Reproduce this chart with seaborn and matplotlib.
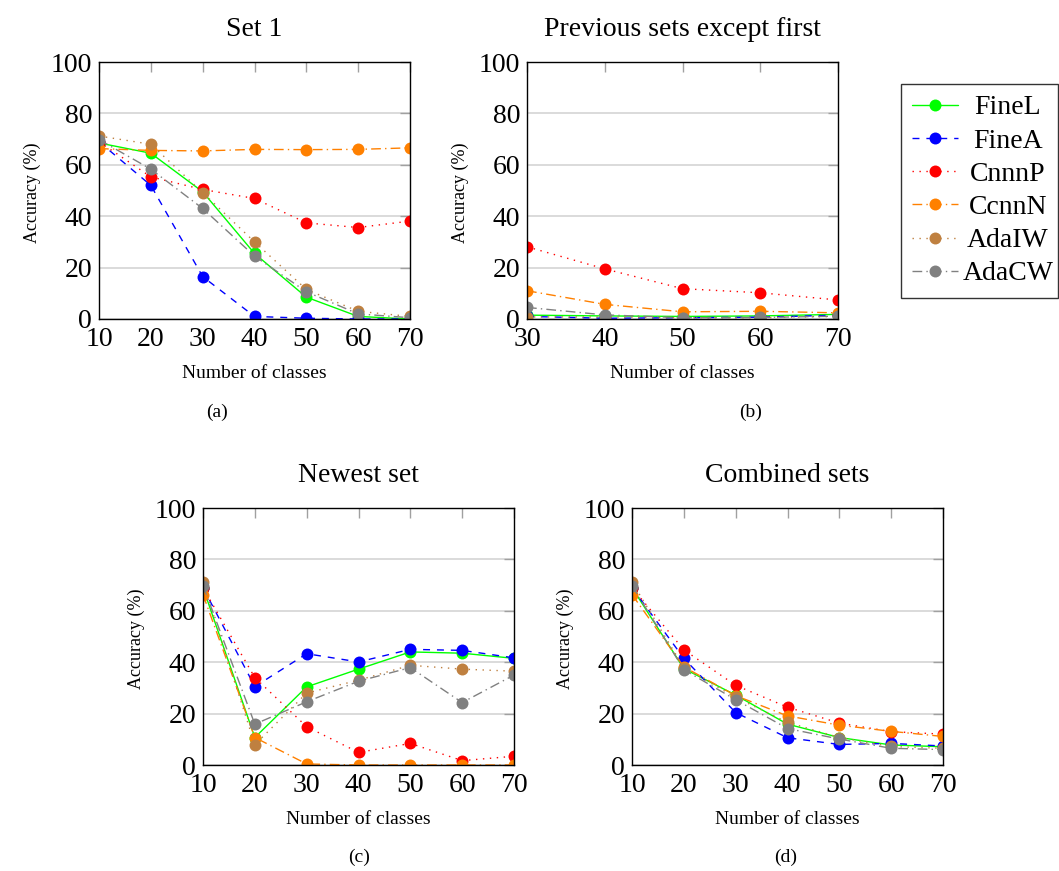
import numpy as np
import pandas as pd
import matplotlib
matplotlib.use("Agg")
import matplotlib.pyplot as plt
import seaborn as sns

methods = ["FineL", "FineA", "CnnnP", "CcnnN", "AdaIW", "AdaCW"]
classes_full = [10, 20, 30, 40, 50, 60, 70]
classes_prev = [30, 40, 50, 60, 70]

# (a) Set 1
set1_FineL = [68.5, 64.5, 49.5, 25.5, 8.5, 1.0, 0.0]
set1_FineA = [69.0, 52.0, 16.5, 1.0, 0.3, 0.0, 0.0]
set1_CnnnP = [69.0, 55.3, 50.4, 46.9, 37.4, 35.6, 38.1]
set1_CcnnN = [66.3, 65.6, 65.4, 66.0, 65.9, 66.0, 66.6]
set1_AdaIW = [71.2, 68.0, 49.2, 30.0, 11.5, 3.0, 1.0]
set1_AdaCW = [69.8, 58.3, 43.0, 24.5, 10.6, 2.0, 0.5]

# (b) Previous sets except first
prev_FineL = [1.5, 1.2, 1.0, 1.2, 1.8]
prev_FineA = [1.0, 0.3, 0.5, 0.7, 1.5]
prev_CnnnP = [28.1, 19.5, 11.8, 10.2, 7.4]
prev_CcnnN = [11.0, 5.7, 2.8, 3.0, 2.4]
prev_AdaIW = [0.8, 0.8, 0.5, 0.5, 1.0]
prev_AdaCW = [4.5, 1.6, 0.5, 0.6, 1.1]

# (c) Newest set
new_FineL = [69.0, 10.7, 30.4, 37.3, 44.0, 43.5, 41.5]
new_FineA = [69.0, 30.5, 43.3, 40.1, 45.0, 44.6, 41.7]
new_CnnnP = [69.0, 34.0, 14.9, 4.9, 8.4, 1.7, 3.4]
new_CcnnN = [66.3, 10.7, 0.4, 0.0, 0.0, 0.0, 0.0]
new_AdaIW = [71.2, 7.9, 28.0, 33.0, 38.8, 37.3, 36.5]
new_AdaCW = [69.8, 15.9, 24.6, 32.6, 37.9, 24.3, 35.0]

# (d) Combined sets
comb_FineL = [69.0, 37.5, 27.2, 15.9, 10.7, 7.8, 7.1]
comb_FineA = [69.0, 41.5, 20.4, 10.6, 8.0, 8.4, 7.4]
comb_CnnnP = [69.0, 44.8, 31.0, 22.5, 16.3, 13.0, 12.0]
comb_CcnnN = [66.3, 38.2, 27.0, 19.1, 15.5, 13.1, 11.1]
comb_AdaIW = [71.2, 37.9, 26.3, 16.6, 10.7, 7.2, 6.5]
comb_AdaCW = [69.8, 37.1, 25.4, 14.2, 10.1, 6.5, 6.0]

titles = ["Set 1", "Previous sets except first", "Newest set", "Combined sets"]
tags = ["(a)", "(b)", "(c)", "(d)"]
panel_x = [classes_full, classes_prev, classes_full, classes_full]
panel_series = [
    [set1_FineL, set1_FineA, set1_CnnnP, set1_CcnnN, set1_AdaIW, set1_AdaCW],
    [prev_FineL, prev_FineA, prev_CnnnP, prev_CcnnN, prev_AdaIW, prev_AdaCW],
    [new_FineL, new_FineA, new_CnnnP, new_CcnnN, new_AdaIW, new_AdaCW],
    [comb_FineL, comb_FineA, comb_CnnnP, comb_CcnnN, comb_AdaIW, comb_AdaCW],
]

styles = {
    "FineL": dict(color="#00ff00", ls="-"),
    "FineA": dict(color="#0000ff", ls=(0, (5, 5))),
    "CnnnP": dict(color="#ff0000", ls=(0, (1, 4))),
    "CcnnN": dict(color="#ff8000", ls=(0, (7, 3, 1, 3))),
    "AdaIW": dict(color="#bf8040", ls=(0, (1, 4))),
    "AdaCW": dict(color="#808080", ls=(0, (7, 3, 1, 3))),
}

sns.set_style("white")
plt.rcParams["font.family"] = ["Liberation Serif", "DejaVu Serif"]
plt.rcParams["text.color"] = "black"
plt.rcParams["xtick.labelcolor"] = "black"
plt.rcParams["ytick.labelcolor"] = "black"
plt.rcParams["axes.labelcolor"] = "black"

W, H = 1059.0, 871.0
fig = plt.figure(figsize=(W / 100, H / 100), dpi=100)
boxes = [(99, 62), (527, 62), (203, 508), (632, 508)]
tag_pos = [(217, 412), (751, 412), (359, 857), (786, 857)]
aw, ah = 311.0, 257.0

handles = None
for title, tag, xs, series, (lx, ty), (tx, tyy) in zip(
        titles, tags, panel_x, panel_series, boxes, tag_pos):
    ax = fig.add_axes([lx / W, (H - ty - ah) / H, aw / W, ah / H])
    for name, vals in zip(methods, series):
        df = pd.DataFrame({"x": xs, "y": vals})
        st = styles[name]
        sns.lineplot(data=df, x="x", y="y", ax=ax, color=st["color"],
                     linestyle=st["ls"], linewidth=1.0, marker="o",
                     markersize=8.6, markeredgewidth=0, label=name,
                     legend=False)
    ax.set_xlim(xs[0], xs[-1])
    ax.set_ylim(0, 100)
    ax.set_xticks(xs)
    ax.set_yticks([0, 20, 40, 60, 80, 100])
    ax.tick_params(axis="both", labelsize=20, direction="in", length=7.5,
                   width=1.0, color="#a0a0a0", top=True, right=True, pad=6)
    ax.tick_params(axis="y", pad=5)
    ax.yaxis.grid(True, color="#d4d4d4", linewidth=1.2)
    ax.xaxis.grid(False)
    ax.set_axisbelow(True)
    for sp in ax.spines.values():
        sp.set_color("black")
        sp.set_linewidth(1.0)
    ax.set_xlabel("Number of classes", fontsize=14)
    ax.xaxis.set_label_coords(0.5, -0.18)
    ax.set_ylabel("Accuracy (%)", fontsize=13)
    ax.yaxis.set_label_coords(-0.186, 0.49)
    ax.set_title(title, fontsize=20, pad=19)
    fig.text(tx / W, 1 - tyy / H, tag, ha="center", va="center", fontsize=14)
    if handles is None:
        handles, labels = ax.get_legend_handles_labels()

leg = fig.legend(handles, [" "] * len(handles), loc="upper left",
                 bbox_to_anchor=(901 / W, 1 - 296 / H, 157 / W, 212 / H),
                 mode="expand", borderaxespad=0, fontsize=20,
                 frameon=True, framealpha=1.0, handlelength=1.65,
                 borderpad=0.4, labelspacing=0.28, handletextpad=0.5,
                 fancybox=False)
leg.get_frame().set_edgecolor("#333333")
leg.get_frame().set_linewidth(1.0)
leg.set_zorder(5)

fig.canvas.draw()
renderer = fig.canvas.get_renderer()
for h, name in zip(leg.legend_handles, methods):
    bb = h.get_window_extent(renderer)
    yc = 0.5 * (bb.y0 + bb.y1)
    fig.text(1008 / W, yc / H, name, ha="center", va="center_baseline",
             fontsize=20, color="black", zorder=20)

fig.savefig("out.png", dpi=100)
